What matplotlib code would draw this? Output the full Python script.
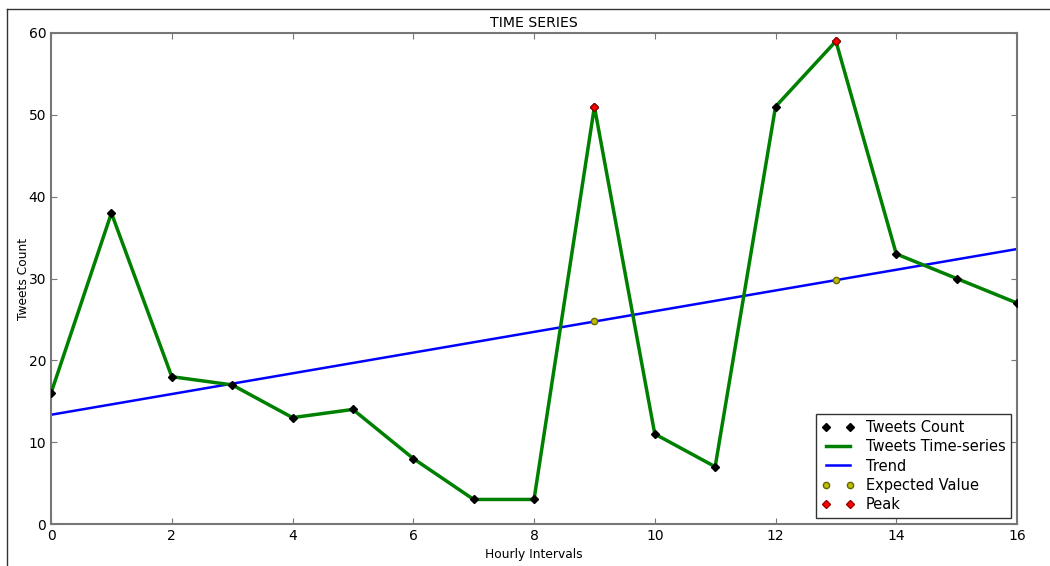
import matplotlib.pyplot as plt
from matplotlib.lines import Line2D

# hourly tweet counts
hours = list(range(17))
tweets = [16, 38, 18, 17, 13, 14, 8, 3, 3, 51, 11, 7, 51, 59, 33, 30, 27]

# linear trend (end points)
trend_x = [0, 16]
trend_y = [13.35, 33.6]

# expected values and peaks
expected_x = [9, 13]
expected_y = [24.75, 29.8]
peak_x = [9, 13]
peak_y = [51, 59]

fig = plt.figure(figsize=(10.5, 5.66), dpi=100)
ax = fig.add_axes([0.0486, 0.0742, 0.92, 0.8675])

ax.plot(hours, tweets, 'kD', markersize=4.5, label='Tweets Count', zorder=4)
ax.plot(hours, tweets, color='green', linewidth=2.5, label='Tweets Time-series', zorder=3)
ax.plot(trend_x, trend_y, color='blue', linewidth=1.8, label='Trend', zorder=2)
ax.plot(expected_x, expected_y, 'o', color='y', markeredgecolor='#666600', markersize=4.5,
        label='Expected Value', zorder=5)
ax.plot(peak_x, peak_y, 'D', color='red', markeredgecolor='#990000', markersize=4.5,
        label='Peak', zorder=5)

ax.set_xlim(0, 16)
ax.set_ylim(0, 60)
ax.set_xticks(range(0, 17, 2))
ax.set_yticks(range(0, 61, 10))
ax.tick_params(direction='in', top=True, right=True, labelsize=10, length=4, color='#777777')
for s in ax.spines.values():
    s.set_color('#777777')
    s.set_linewidth(1.5)

ax.set_title('TIME SERIES', fontsize=10.2, pad=4)
ax.set_xlabel('Hourly Intervals', fontsize=8.8)
ax.set_ylabel('Tweets Count', fontsize=8.8, labelpad=-1)

leg = ax.legend(loc='lower right', numpoints=2, fontsize=10.5, fancybox=False,
                framealpha=1, borderaxespad=0.4, handlelength=2.2, labelspacing=0.3)
leg.get_frame().set_edgecolor('#333333')

# screenshot border on top and left
fig.add_artist(Line2D([0.0067, 1.0], [1 - 9 / 566, 1 - 9 / 566], color='#333333', linewidth=1))
fig.add_artist(Line2D([0.0067, 0.0067], [0, 1 - 9 / 566], color='#333333', linewidth=1))

fig.savefig('out.png', dpi=100)
